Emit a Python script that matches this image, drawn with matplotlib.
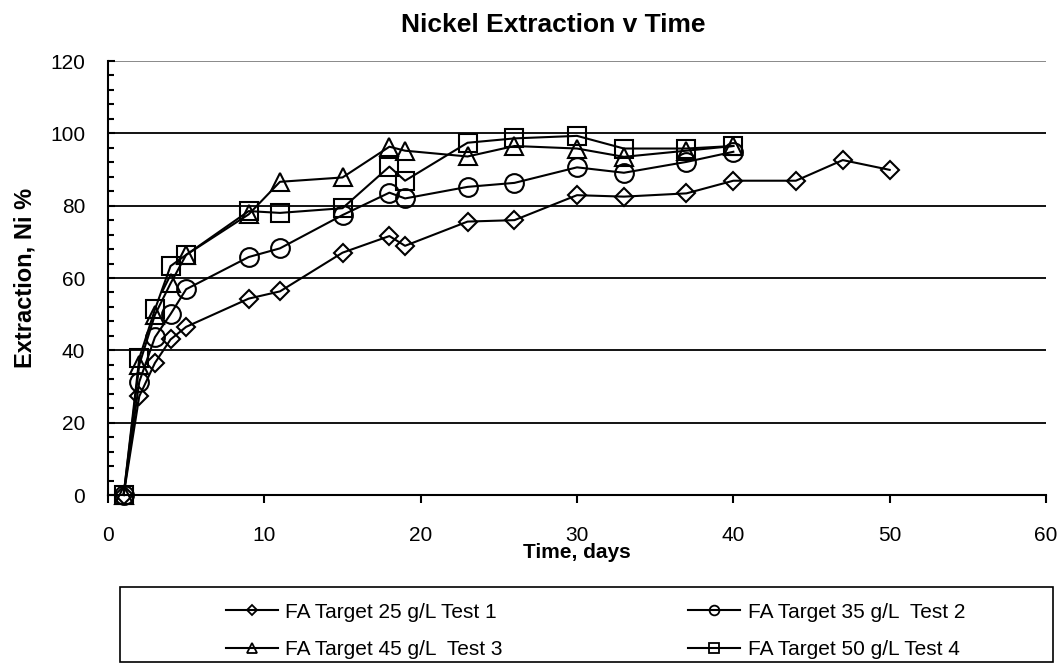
import matplotlib
matplotlib.use("Agg")
import matplotlib.pyplot as plt
from matplotlib.patches import Rectangle
from matplotlib.ticker import MultipleLocator

plt.rcParams['font.family'] = ['Liberation Sans', 'DejaVu Sans']

# extraction data, days vs Ni %
days_t1 = [1, 2, 3, 4, 5, 9, 11, 15, 18, 19, 23, 26, 30, 33, 37, 40, 44, 47, 50]
ni_t1 = [0, 27.3, 36.5, 43.0, 46.5, 54.3, 56.3, 67.0, 71.6, 68.9, 75.6, 76.0,
         82.9, 82.5, 83.4, 86.9, 86.9, 92.6, 89.9]

days_t2 = [1, 2, 3, 4, 5, 9, 11, 15, 18, 19, 23, 26, 30, 33, 37, 40]
ni_t2 = [0, 31.3, 43.6, 50.0, 56.9, 65.8, 68.2, 77.4, 83.6, 82.0, 85.2, 86.3,
         90.6, 89.1, 92.1, 94.9]

days_t3 = [1, 2, 3, 4, 5, 9, 11, 15, 18, 19, 23, 26, 30, 33, 37, 40]
ni_t3 = [0, 36.0, 49.8, 58.5, 66.4, 77.6, 86.6, 87.8, 96.3, 95.2, 93.6, 96.5,
         95.8, 93.5, 95.2, 96.5]

days_t4 = [1, 2, 3, 4, 5, 9, 11, 15, 18, 19, 23, 26, 30, 33, 37, 40]
ni_t4 = [0, 37.8, 51.3, 63.3, 66.4, 78.5, 78.0, 79.3, 90.8, 86.9, 97.4, 98.6,
         99.3, 95.8, 95.8, 96.5]

labels = ['FA Target 25 g/L Test 1', 'FA Target 35 g/L  Test 2',
          'FA Target 45 g/L  Test 3', 'FA Target 50 g/L Test 4']

fig = plt.figure(figsize=(10.57, 6.67), dpi=100)
ax = fig.add_axes([0.10218, 0.25787, 0.88742, 0.65067])

style = dict(color='black', lw=1.5, mfc='none', mec='black', mew=1.5, clip_on=False)
l1, = ax.plot(days_t1, ni_t1, marker='D', ms=9.5, **style)
l2, = ax.plot(days_t2, ni_t2, marker='o', ms=13.5, **style)
l3, = ax.plot(days_t3, ni_t3, marker='^', ms=13.5, **style)
l4, = ax.plot(days_t4, ni_t4, marker='s', ms=13.5, **style)

ax.set_xlim(0, 60)
ax.set_ylim(0, 120)
ax.xaxis.set_major_locator(MultipleLocator(10))
ax.yaxis.set_major_locator(MultipleLocator(20))
ax.yaxis.set_minor_locator(MultipleLocator(4))

for y in range(20, 101, 20):
    ax.axhline(y, color='black', lw=1.3, zorder=0)
ax.axhline(120, color='#808080', lw=1.3, zorder=0)

for s in ['top', 'right']:
    ax.spines[s].set_visible(False)
for s in ['left', 'bottom']:
    ax.spines[s].set_linewidth(1.5)

ax.tick_params(axis='x', direction='out', length=6, width=1.5, pad=16, labelsize=15)
ax.tick_params(axis='y', which='major', direction='in', length=5, width=1.5, pad=16.5, labelsize=15)
ax.tick_params(axis='y', which='minor', direction='in', length=4, width=1.5)

ax.set_xlabel('Time, days', fontsize=15, fontweight='bold', labelpad=-1)
ax.set_ylabel('Extraction, Ni %', fontsize=17, fontweight='bold', labelpad=10)

fig.text(0.523, 0.9525, 'Nickel Extraction v Time', fontsize=19, fontweight='bold',
         ha='center', va='baseline')

# legend frame and entries (row-wise order: Test 1, Test 2 / Test 3, Test 4)
fig.patches.append(Rectangle((120 / 1057, 1 - 662 / 667), 933 / 1057, 75 / 667,
                             transform=fig.transFigure, fill=False, ec='black', lw=1.2))
leg = fig.legend([l1, l3, l2, l4], [labels[0], labels[2], labels[1], labels[3]],
                 ncol=2, frameon=False,
                 loc='center left', bbox_to_anchor=(226 / 1057, 1 - 631 / 667),
                 borderaxespad=0, borderpad=0, fontsize=15, handlelength=2.5,
                 handletextpad=0.35, columnspacing=8.9, labelspacing=0.9)
for h in leg.legend_handles:
    h.set_markersize(7)
    h.set_markeredgewidth(1.3)
leg.legend_handles[0].set_markersize(5.5)

fig.savefig('out.png', dpi=100)
